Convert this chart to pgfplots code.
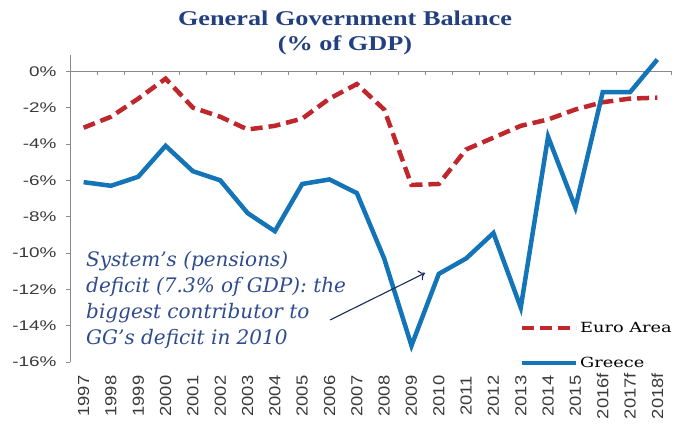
\documentclass[border=0pt]{standalone}
\usepackage{fontspec}
\usepackage{pgfplots}
\pgfplotsset{compat=1.18}
\usetikzlibrary{arrows.meta}
\setmainfont{Liberation Serif}
\setsansfont{Liberation Sans}
\newfontfamily\ticky[FakeStretch=1.35]{Liberation Sans}
\newfontfamily\tickx[FakeStretch=1.15]{Liberation Sans}
\newfontfamily\titlefont[FakeStretch=1.25]{Liberation Serif}
\newfontfamily\legfont[FakeStretch=1.27]{DejaVu Serif}
\newfontfamily\annfont{DejaVu Serif}
\definecolor{titleblue}{HTML}{233F80}
\definecolor{annblue}{HTML}{2F4B8F}
\definecolor{arrowblue}{HTML}{1B2A55}
\definecolor{grblue}{HTML}{1474B8}
\definecolor{eured}{HTML}{C0272D}
\definecolor{tickgray}{HTML}{3A3A3A}
\definecolor{axgray}{HTML}{8A8A8A}
\begin{document}
\begin{tikzpicture}
\path[use as bounding box] (0pt,0pt) rectangle (675pt,424pt);
\begin{axis}[
  at={(70pt,62pt)}, anchor=south west,
  scale only axis, width=601pt, height=307pt,
  xmin=-0.5, xmax=21.5, ymin=-16, ymax=0.9,
  axis y line*=left, axis x line*=bottom,
  x axis line style={draw=none},
  y axis line style={axgray, line width=0.8pt},
  xtick={0,...,21},
  xticklabels={1997,1998,1999,2000,2001,2002,2003,2004,2005,2006,2007,2008,2009,2010,2011,2012,2013,2014,2015,2016f,2017f,2018f},
  xtick style={draw=none},
  xticklabel style={rotate=90, anchor=center, font=\tickx\fontsize{16}{18}\selectfont, text=tickgray, inner sep=0pt, xshift=-30pt},
  ytick={-16,-14,-12,-10,-8,-6,-4,-2,0},
  yticklabels={-16\%,-14\%,-12\%,-10\%,-8\%,-6\%,-4\%,-2\%,0\%},
  yticklabel style={font=\ticky\fontsize{14}{16}\selectfont, text=tickgray, xshift=-6pt},
  ytick style={axgray, line width=0.8pt},
  tick align=outside, major tick length=4pt,
  legend style={draw=none, fill=none, at={(axis cs:15.95,-15.1)}, anchor=west, inner sep=0pt,
    font=\legfont\fontsize{14}{16}\selectfont, row sep=19pt, cells={anchor=west}},
  legend image code/.code={\draw[#1] (0pt,0pt) -- (54pt,0pt);},
  clip=false,
]
\draw[axgray, line width=0.8pt] (axis cs:-0.5,0) -- (axis cs:21.5,0);
\pgfplotsinvokeforeach{0.5,1.5,...,21.5}{\draw[axgray, line width=0.6pt] (axis cs:#1,0) -- ++(0pt,-4pt);}
\addplot[eured, line width=4.5pt, dash pattern=on 12pt off 6pt] coordinates {
(0,-3.1) (1,-2.5) (2,-1.5) (3,-0.4) (4,-2.0) (5,-2.5) (6,-3.2) (7,-3.0) (8,-2.6) (9,-1.5) (10,-0.7)
(11,-2.1) (12,-6.25) (13,-6.2) (14,-4.3) (15,-3.65) (16,-3.0) (17,-2.65) (18,-2.1) (19,-1.7) (20,-1.5) (21,-1.45)};
\addlegendentry{Euro Area}
\addplot[grblue, line width=4.5pt] coordinates {
(0,-6.1) (1,-6.3) (2,-5.8) (3,-4.1) (4,-5.5) (5,-6.0) (6,-7.8) (7,-8.8) (8,-6.2) (9,-5.95) (10,-6.7)
(11,-10.3) (12,-15.1) (13,-11.15) (14,-10.3) (15,-8.9) (16,-13.0) (17,-3.6) (18,-7.5) (19,-1.15) (20,-1.15) (21,0.65)};
\addlegendentry{Greece}
\end{axis}
\node[font=\titlefont\bfseries\fontsize{21}{24}\selectfont, text=titleblue] at (345pt,406pt) {General Government Balance};
\node[font=\titlefont\bfseries\fontsize{21}{24}\selectfont, text=titleblue] at (345pt,379pt) {(\% of GDP)};
\node[anchor=north west, align=left, inner sep=0pt, text=annblue, font=\annfont\itshape\fontsize{20}{26}\selectfont] at (86pt,173pt)
 {System’s (pensions)\\deficit (7.3\% of GDP): the\\biggest contributor to\\GG’s deficit in 2010};
\draw[arrowblue, line width=1.1pt, -{To[length=6pt,width=11pt]}] (330pt,104pt) -- (425pt,151pt);
\end{tikzpicture}
\end{document}
